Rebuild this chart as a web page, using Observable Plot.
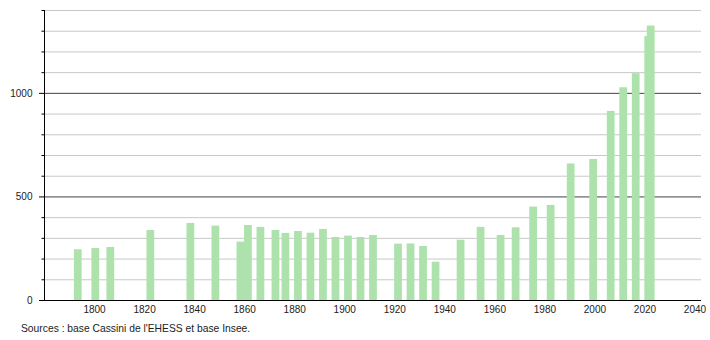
<!DOCTYPE html>
<html>
<head>
<meta charset="utf-8">
<script src="https://cdn.jsdelivr.net/npm/d3@7"></script>
<script src="https://cdn.jsdelivr.net/npm/@observablehq/plot@0.6"></script>
<style>
  html, body { margin: 0; padding: 0; background: #fff; }
  #caption { font-family: "Liberation Sans", Arial, sans-serif; font-size: 10.3px; line-height: 12px; color: #222; margin-top: 5px; padding-left: 21px; }
</style>
</head>
<body>
<div id="chart"></div>
<div id="caption">Sources : base Cassini de l'EHESS et base Insee.</div>
<script>
const years = [1793, 1800, 1806, 1822, 1838, 1848, 1858, 1861, 1866, 1872, 1876, 1881, 1886, 1891, 1896, 1901, 1906, 1911, 1921, 1926, 1931, 1936, 1946, 1954, 1962, 1968, 1975, 1982, 1990, 1999, 2006, 2011, 2016, 2021, 2022];
const population = [245, 251, 256, 338, 372, 359, 282, 362, 353, 338, 324, 333, 325, 343, 304, 311, 304, 314, 272, 273, 261, 185, 291, 353, 314, 351, 451, 459, 659, 681, 913, 1027, 1095, 1275, 1325];
const xTicks = [1800, 1820, 1840, 1860, 1880, 1900, 1920, 1940, 1960, 1980, 2000, 2020, 2040];
const yLabelTicks = [0, 500, 1000];
const yMinorTicks = [100, 200, 300, 400, 600, 700, 800, 900, 1100, 1200, 1300, 1400];
const lightGrid = [100, 200, 300, 400, 600, 700, 800, 900, 1100, 1200, 1300, 1400];
const darkGrid = [500, 1000];

const data = years.map((year, i) => ({year, pop: population[i]}));

const chart = Plot.plot({
  width: 710,
  height: 318,
  marginLeft: 44,
  marginRight: 9,
  marginTop: 10,
  marginBottom: 18,
  x: {domain: [1780, 2042.6]},
  y: {domain: [0, 1400]},
  style: {fontFamily: "'Liberation Sans', Arial, sans-serif", fontSize: "10px", color: "#222", background: "white"},
  marks: [
    Plot.ruleY(lightGrid, {stroke: "#c8c8c8", strokeWidth: 1}),
    Plot.ruleY(darkGrid, {stroke: "#444", strokeWidth: 1}),
    Plot.rect(data, {x1: d => d.year - 1.05, x2: d => d.year + 2.05, y1: 0, y2: "pop", fill: "#ade2ad"}),
    Plot.ruleX([1780], {stroke: "black", strokeWidth: 1}),
    Plot.ruleY([0], {stroke: "black", strokeWidth: 1}),
    Plot.axisY(yMinorTicks, {tickSize: 2.5, stroke: "black", tickFormat: () => "", label: null}),
    Plot.axisY(yLabelTicks, {tickSize: 5, tickPadding: 7, stroke: "black", tickFormat: d => String(d), label: null}),
    Plot.axisX(xTicks, {tickSize: 0, tickPadding: 5, tickFormat: d => String(d), label: null})
  ]
});
document.getElementById("chart").append(chart);
</script>
</body>
</html>
